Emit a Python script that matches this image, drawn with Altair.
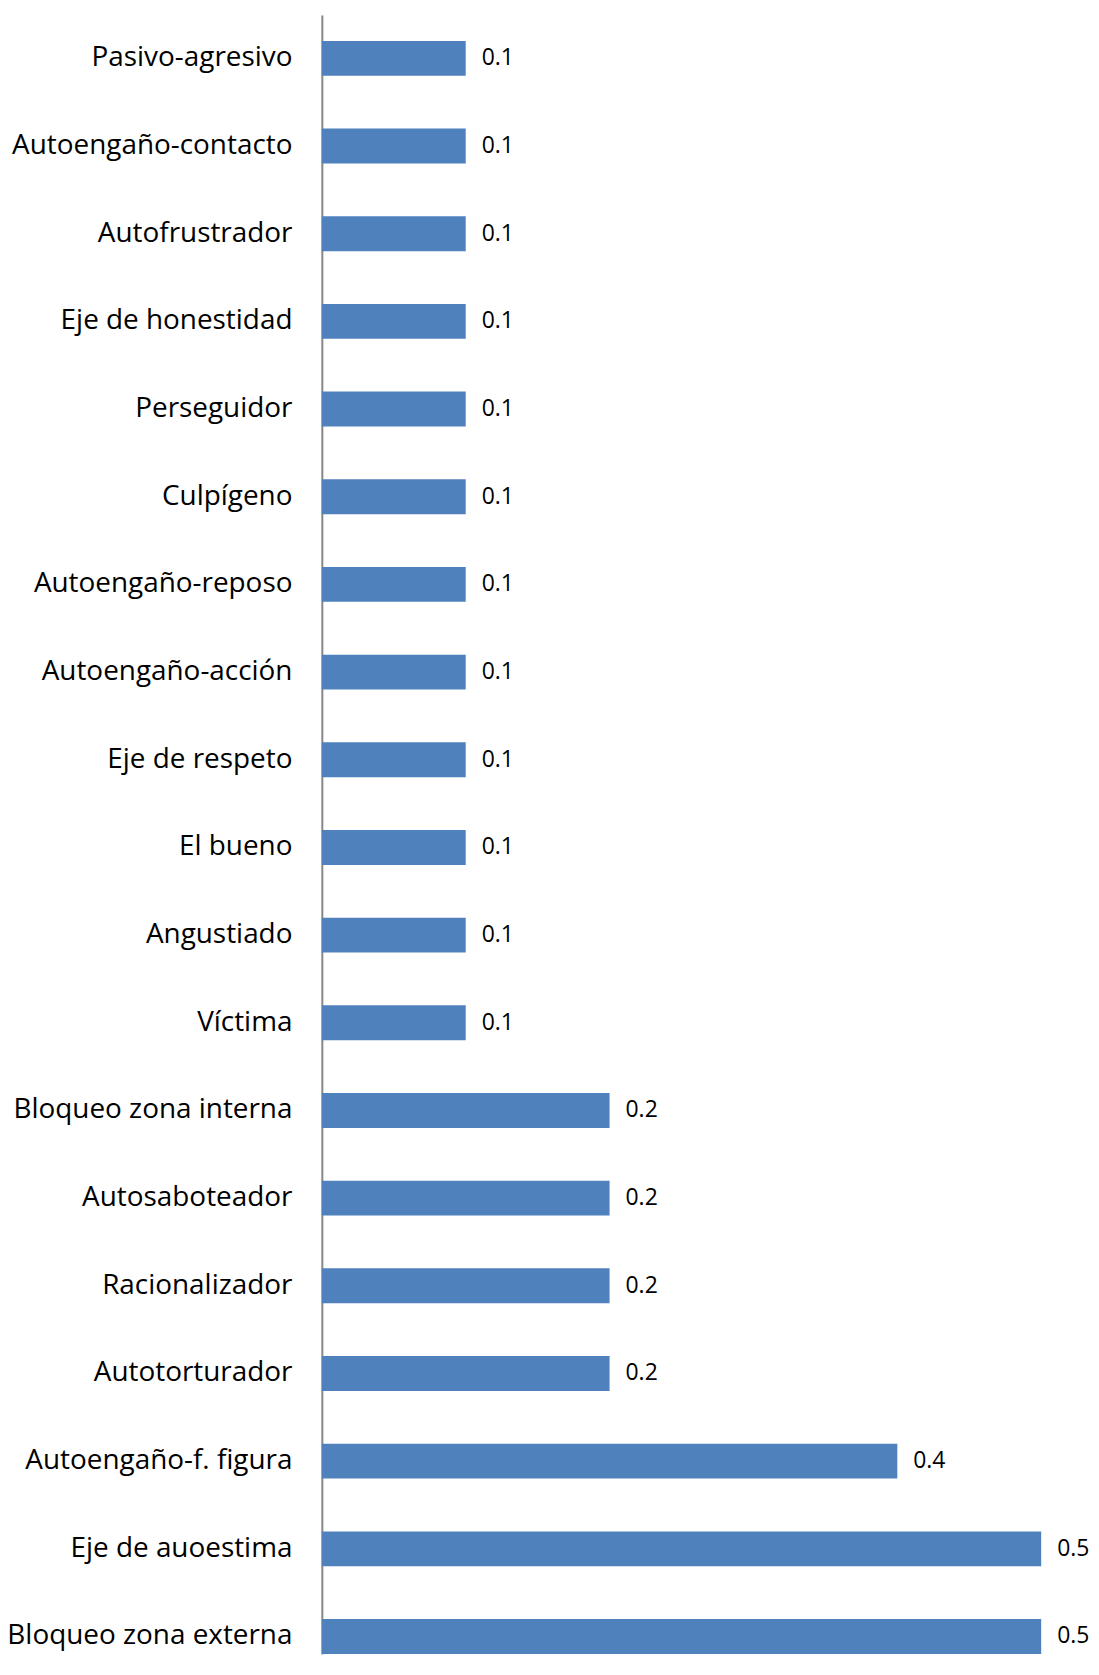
import altair as alt
import pandas as pd

categories = ["Pasivo-agresivo", "Autoengaño-contacto", "Autofrustrador", "Eje de honestidad",
              "Perseguidor", "Culpígeno", "Autoengaño-reposo", "Autoengaño-acción",
              "Eje de respeto", "El bueno", "Angustiado", "Víctima", "Bloqueo zona interna",
              "Autosaboteador", "Racionalizador", "Autotorturador", "Autoengaño-f. figura",
              "Eje de auoestima", "Bloqueo zona externa"]
values = [0.1, 0.1, 0.1, 0.1, 0.1, 0.1, 0.1, 0.1, 0.1, 0.1, 0.1, 0.1,
          0.2, 0.2, 0.2, 0.2, 0.4, 0.5, 0.5]

df = pd.DataFrame({"cat": categories, "val": values})

y = alt.Y("cat:N", sort=categories, title=None,
          scale=alt.Scale(paddingInner=0.602, paddingOuter=0.1477, align=1),
          axis=alt.Axis(ticks=False, domainColor="#868686", domainWidth=2,
                        labelFont="Open Sans", labelFontSize=28, labelColor="#000000",
                        labelPadding=30, labelLimit=400))
x = alt.X("val:Q", title=None, scale=alt.Scale(domain=[0, 0.5], nice=False), axis=None)

bars = alt.Chart(df).mark_bar(color="#4F81BD").encode(x=x, y=y)
text = alt.Chart(df).mark_text(align="left", baseline="middle", dx=16, font="Open Sans",
                               fontSize=23, color="#000000").encode(
    x=x, y=alt.Y("cat:N", sort=categories), text=alt.Text("val:Q", format=".1f"))

chart = (bars + text).properties(
    width=722, height=1645,
    autosize=alt.AutoSizeParams(type="none"),
    padding={"left": 315, "top": 4, "right": 50, "bottom": 0},
).configure_view(stroke=None)

chart.save("out.html", embed_options={"renderer": "svg", "actions": False})
